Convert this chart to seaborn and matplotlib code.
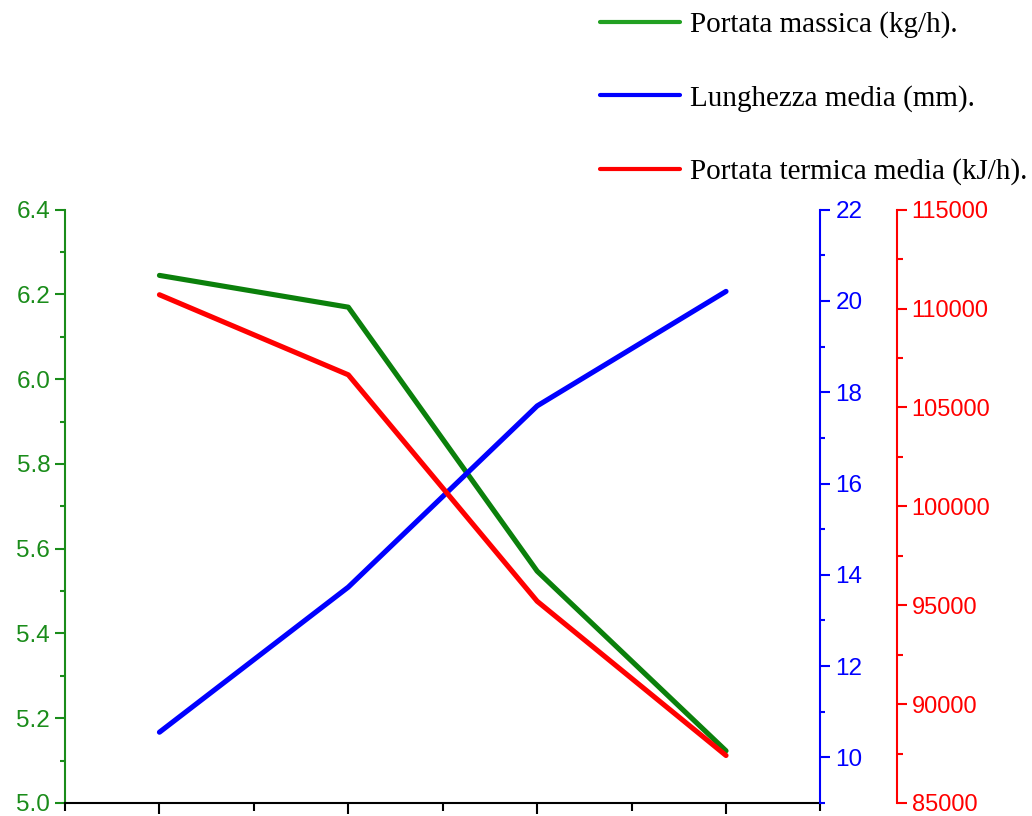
import numpy as np
import pandas as pd
import seaborn as sns
import matplotlib.pyplot as plt
from matplotlib.ticker import MultipleLocator, NullFormatter
from matplotlib.lines import Line2D

# data
prove = [1, 2, 3, 4]
portata_massica = [6.245, 6.170, 5.547, 5.123]      # kg/h
lunghezza_media = [10.55, 13.73, 17.70, 20.21]      # mm
portata_termica = [110700, 106650, 95200, 87400]    # kJ/h

labels = ["Portata massica (kg/h).", "Lunghezza media (mm).", "Portata termica media (kJ/h)."]
green, blue, red = "#0b800b", "#0000ff", "#ff0000"
axis_green = "#1a8c1a"

df = pd.DataFrame({"x": prove, "massica": portata_massica,
                   "lunghezza": lunghezza_media, "termica": portata_termica})

sns.set_style("ticks")
plt.rcParams['font.family'] = ['Liberation Sans', 'DejaVu Sans']

fig = plt.figure(figsize=(10.32, 8.16), dpi=100)
ax = fig.add_axes([0.063, 0.016, 0.732, 0.727])
ax2 = ax.twinx()
ax3 = ax.twinx()

sns.lineplot(data=df, x="x", y="massica", ax=ax, color=green, lw=3.7)
sns.lineplot(data=df, x="x", y="lunghezza", ax=ax2, color=blue, lw=3.7)
sns.lineplot(data=df, x="x", y="termica", ax=ax3, color=red, lw=3.7)

ax.set_xlim(0.5, 4.5)
ax.xaxis.set_major_locator(MultipleLocator(1))
ax.xaxis.set_minor_locator(MultipleLocator(0.5))
ax.xaxis.set_major_formatter(NullFormatter())
ax.tick_params(axis='x', which='major', length=8, width=1.5, color='black')
ax.tick_params(axis='x', which='minor', length=6, width=1.5, color='black')
ax.set_xlabel("")

ax.set_ylim(5.0, 6.4)
ax.yaxis.set_major_locator(MultipleLocator(0.2))
ax.yaxis.set_minor_locator(MultipleLocator(0.1))
ax.tick_params(axis='y', which='both', colors=axis_green, labelsize=17.5, width=1.5)
ax.tick_params(axis='y', which='major', length=7.2)
ax.tick_params(axis='y', which='minor', length=3.6)
ax.set_ylabel("")

ax2.set_ylim(9, 22)
ax2.yaxis.set_major_locator(MultipleLocator(2))
ax2.yaxis.set_minor_locator(MultipleLocator(1))
ax2.tick_params(axis='y', which='both', colors=blue, labelsize=17.5, width=1.5)
ax2.tick_params(axis='y', which='major', length=7.2)
ax2.tick_params(axis='y', which='minor', length=3.6)
ax2.set_ylabel("")

ax3.set_ylim(85000, 115000)
ax3.yaxis.set_major_locator(MultipleLocator(5000))
ax3.yaxis.set_minor_locator(MultipleLocator(2500))
ax3.tick_params(axis='y', which='both', colors=red, labelsize=17, width=1.5)
ax3.tick_params(axis='y', which='major', length=7.2)
ax3.tick_params(axis='y', which='minor', length=4.3)
ax3.spines['right'].set_position(('outward', 55))
ax3.set_ylabel("")

for a in (ax, ax2, ax3):
    for s in a.spines.values():
        s.set_visible(False)
ax.spines['left'].set_visible(True)
ax.spines['left'].set_color(axis_green)
ax.spines['bottom'].set_visible(True)
ax.spines['bottom'].set_color('black')
ax2.spines['right'].set_visible(True)
ax2.spines['right'].set_color(blue)
ax3.spines['right'].set_visible(True)
ax3.spines['right'].set_color(red)
for a in (ax, ax2, ax3):
    for s in a.spines.values():
        s.set_linewidth(1.5)

handles = [Line2D([], [], color=c, lw=3) for c in ("#22a022", blue, red)]
fig.legend(handles, labels, loc='upper left', bbox_to_anchor=(0.5555, 1.018),
           frameon=False, handlelength=2.77, handletextpad=0.34, labelspacing=1.59,
           labelcolor='black', prop={'family': 'Liberation Serif', 'size': 21})

fig.savefig("out.png", dpi=100)
